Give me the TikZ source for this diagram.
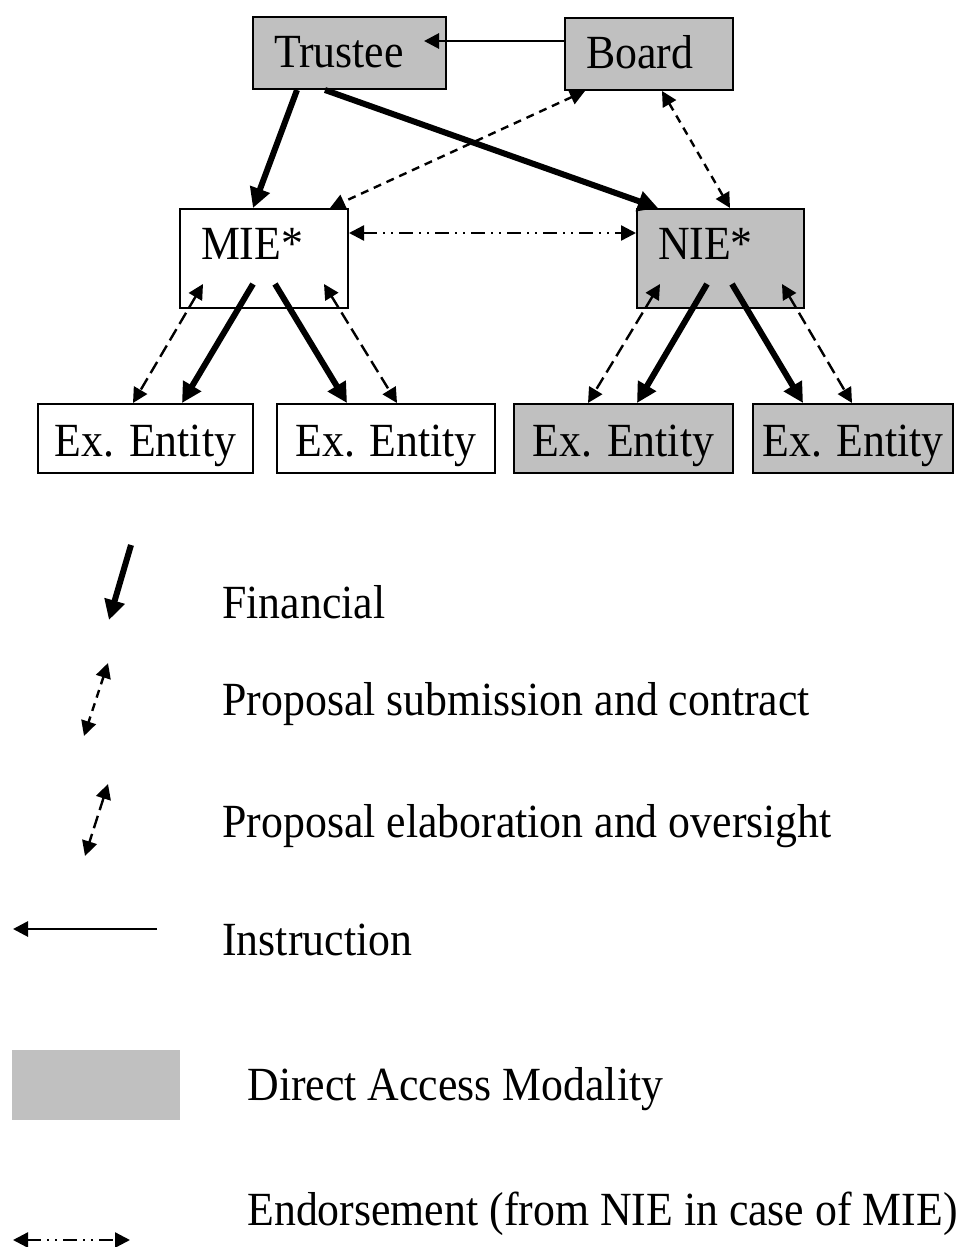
\documentclass[tikz,border=0pt]{standalone}
\usepackage{fontspec}
\setmainfont{Liberation Serif}[FakeStretch=0.92]
\usetikzlibrary{arrows.meta,calc}
\definecolor{boxgray}{RGB}{192,192,192}
\tikzset{
	box/.style={draw, line width=1pt, anchor=north west, inner ysep=0pt, inner xsep=10.5pt, align=left},
	topbox/.style={box, text height=25.5pt, text depth=10.5pt},
	iebox/.style={box, text height=25pt, text depth=24.5pt},
	exbox/.style={box, inner xsep=0pt, align=center, text height=26pt, text depth=8.5pt},
	fin/.style={line width=3pt, -{Triangle[length=10pt,width=10pt]}},
	sub/.style={line width=1.2pt, dash pattern=on 4pt off 3pt, {Triangle[length=7.5pt,width=7.5pt]}-{Triangle[length=7.5pt,width=7.5pt]}},
	elab/.style={line width=1.2pt, dash pattern=on 6.5pt off 3pt, {Triangle[length=7.5pt,width=7.5pt]}-{Triangle[length=7.5pt,width=7.5pt]}},
	instr/.style={line width=1.4pt, -{Triangle[length=7.5pt,width=7.5pt]}},
	endorse/.style={line width=1.2pt, dash pattern=on 7pt off 3pt on 1pt off 3pt on 1pt off 3pt, {Triangle[length=7.5pt,width=7.5pt]}-{Triangle[length=7.5pt,width=7.5pt]}},
	key/.style={anchor=base west, inner sep=0pt}
}

\begin{document}
\begin{tikzpicture}[x=0.5pt, y=-0.5pt, font=\fontsize{23.8}{28}\selectfont]
				\useasboundingbox (0,0) rectangle (959,1247);
				
				\node[topbox, fill=boxgray, text width=75.5pt] (trustee) at (252,16) {Trustee};
				\node[topbox, fill=boxgray, text width=63pt] (board) at (564,17) {Board};
				\node[iebox, text width=63pt] (mie) at (179,208) {MIE*};
				\node[iebox, fill=boxgray, text width=62.5pt] (nie) at (636,208) {NIE*};
				
				\node[exbox, minimum width=107.5pt] (ex1) at (37,403) {Ex. Entity};
				\node[exbox, minimum width=109pt] (ex2) at (276,403) {Ex. Entity};
				\node[exbox, fill=boxgray, minimum width=109.5pt] (ex3) at (513,403) {Ex. Entity};
				\node[exbox, fill=boxgray, minimum width=100pt] (ex4) at (752,403) {Ex. Entity};
				
				\draw[instr] ($(board.north west)+(0,24)$) -- ($(trustee.north east)+(-23,25)$);
				\draw[fin] ($(trustee.south west)+(45,0)$) -- ($(mie.north west)+(74,0)$);
				\draw[fin] ($(trustee.south west)+(73,0)$) -- ($(nie.north west)+(22,0)$);
				\draw[sub] ($(board.south west)+(21,0)$) -- ($(mie.north west)+(151,0)$);
				\draw[sub] ($(board.south west)+(98,0)$) -- ($(nie.north west)+(94,0)$);
				\draw[endorse] ($(mie.north east)+(0,25)$) -- ($(nie.north west)+(0,25)$);
				
				\draw[elab] ($(mie.south west)+(24,-25)$) -- ($(ex1.north west)+(96,0)$);
				\draw[fin] ($(mie.south west)+(74,-25)$) -- ($(ex1.north west)+(145,0)$);
				\draw[fin] ($(mie.south west)+(96,-25)$) -- ($(ex2.north west)+(71,0)$);
				\draw[elab] ($(mie.south west)+(145,-25)$) -- ($(ex2.north west)+(121,0)$);
				
				\draw[elab] ($(nie.south west)+(24,-25)$) -- ($(ex3.north west)+(75,0)$);
				\draw[fin] ($(nie.south west)+(71,-25)$) -- ($(ex3.north west)+(124,0)$);
				\draw[fin] ($(nie.south west)+(96,-25)$) -- ($(ex4.north west)+(51,0)$);
				\draw[elab] ($(nie.south west)+(146,-25)$) -- ($(ex4.north west)+(100,0)$);
				
				\draw[fin] (131,545) -- (109,620);
				\node[key] (kfin) at (222,618) {Financial};
				\draw[sub] (108,663) -- (84,736);
				\node[key] (ksub) at (222,715) {Proposal submission and contract};
				\draw[elab] (108,784) -- (85,856);
				\node[key] (kelab) at (222,837) {Proposal elaboration and oversight};
				\draw[instr] (157,929) -- (13,929);
				\node[key] (kinstr) at (222,955) {Instruction};
				\node[anchor=north west, fill=boxgray, inner sep=0pt, minimum width=84pt, minimum height=35pt] (dam) at (12,1050) {};
				\node[key] (kdam) at (247,1100) {Direct Access Modality};
				\draw[endorse] (13,1240) -- (130,1240);
				\node[key] (kend) at (247,1225) {Endorsement (from NIE in case of MIE)};
			\end{tikzpicture}
\end{document}
